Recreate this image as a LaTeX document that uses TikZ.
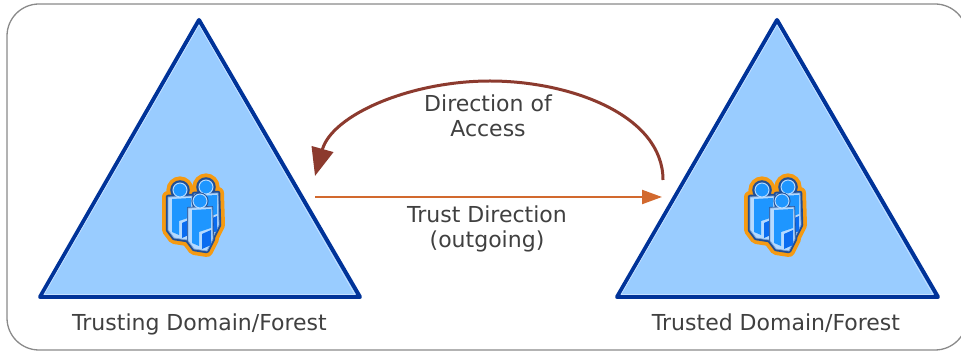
\documentclass[tikz,border=0pt]{standalone}
\usepackage{fontspec}
\setmainfont{DejaVu Sans}
\usetikzlibrary{arrows.meta}
\definecolor{framegray}{HTML}{8A8A8A}
\definecolor{triblue}{HTML}{99CCFF}
\definecolor{triinner}{HTML}{C4E0FF}
\definecolor{navy}{HTML}{003399}
\definecolor{accessred}{HTML}{8C3A2E}
\definecolor{trustorange}{HTML}{D2692E}
\definecolor{txt}{HTML}{404040}
\definecolor{halo}{HTML}{F59A12}
\definecolor{iconnavy}{HTML}{1F4E96}
\definecolor{iconlight}{HTML}{B5DAFF}
\definecolor{iconmid}{HTML}{1E96FF}
\definecolor{icondeep}{HTML}{0A6CF0}
\tikzset{
  outerframe/.style={draw=framegray,line width=1.3pt,fill=white,rounded corners=32pt},
  domaintri/.style={draw=navy,fill=triblue,line width=4pt,line join=round},
  innertri/.style={draw=triinner,line width=0.8pt,line join=round},
  lbl/.style={text=txt,font=\fontsize{22pt}{25pt}\selectfont,align=center,inner sep=0pt},
  accessarrow/.style={draw=accessred,line width=3pt},
  trustarrow/.style={draw=trustorange,line width=2.2pt},
  pics/personfig/.style={code={
    \fill[iconlight,draw=iconnavy!40!iconlight,line width=0.8pt,line join=round]
      (-12,7) -- (12,6) -- (13,38) -- (7,50) -- (-6,48) -- (-12,40) -- cycle;
    \fill[iconmid] (-8,9) -- (11,8) -- (11,27) -- (-1,31) -- (-1,45) -- (-8,42) -- cycle;
    \fill[icondeep] (2,33) -- (11,29) -- (11,44) -- (2,48) -- cycle;
    \fill[iconmid,draw=iconlight,line width=1pt] (0,0) circle (7);
  }},
  pics/personback/.style 2 args={code={
    \draw[draw=#2,fill=#2,line width=#1,line join=round,line cap=round]
      (-12,7) -- (12,6) -- (13,38) -- (7,50) -- (-6,48) -- (-12,40) -- cycle;
    \draw[draw=#2,fill=#2,line width=#1] (0,0) circle (7.5);
  }},
  pics/peoplegroup/.style={code={
    \pic at (17,18) {personback={12pt}{halo}};
    \pic at (43,15) {personback={12pt}{halo}};
    \pic at (37,29) {personback={12pt}{halo}};
    \pic at (17,18) {personback={4.5pt}{iconnavy}};
    \pic at (43,15) {personback={4.5pt}{iconnavy}};
    \pic at (37,29) {personback={4.5pt}{iconnavy}};
    \pic at (17,18) {personfig};
    \pic at (43,15) {personfig};
    \pic at (37,29) {personback={2pt}{iconnavy}};
    \pic at (37,29) {personfig};
  }}
}
\begin{document}
\begin{tikzpicture}[x=1pt,y=-1pt]
\useasboundingbox (0,0) rectangle (961,352);
\begin{scope}
\clip (0,0) rectangle (961,352);
\draw[outerframe] (7,4) rectangle (967,350);
\end{scope}
\draw[domaintri] (199,20) -- (360,297) -- (40,297) -- cycle;
\draw[innertri] (199,25) -- (355,294.5) -- (44,294.5) -- cycle;
\draw[domaintri] (777,20) -- (938,297) -- (617,297) -- cycle;
\draw[innertri] (777,25) -- (933,294.5) -- (621,294.5) -- cycle;
\pic at (163,172) {peoplegroup};
\pic at (745,172) {peoplegroup};
\node[lbl,anchor=base] (trusting) at (199.5,330.5) {Trusting Domain/Forest};
\node[lbl,anchor=base] (trusted) at (776,330.5) {Trusted Domain/Forest};
\node[lbl] (access) at (488,116) {Direction of\\Access};
\node[lbl] (trust) at (487,229) {Trust Direction\\(outgoing)};
\coordinate (accessstart) at (663,180);
\coordinate (accessend) at (315,176);
\coordinate (truststart) at (315,197);
\coordinate (trustend) at (662,197);
\draw[accessarrow,-{Triangle[length=28pt,width=22pt]}]
  (accessstart) .. controls (663,115) and (570,81) .. (490,81)
  .. controls (410,81) and (332,115) .. (accessend);
\draw[trustarrow,-{Triangle[length=20pt,width=14pt]}] (truststart) -- (trustend);
\end{tikzpicture}
\end{document}
